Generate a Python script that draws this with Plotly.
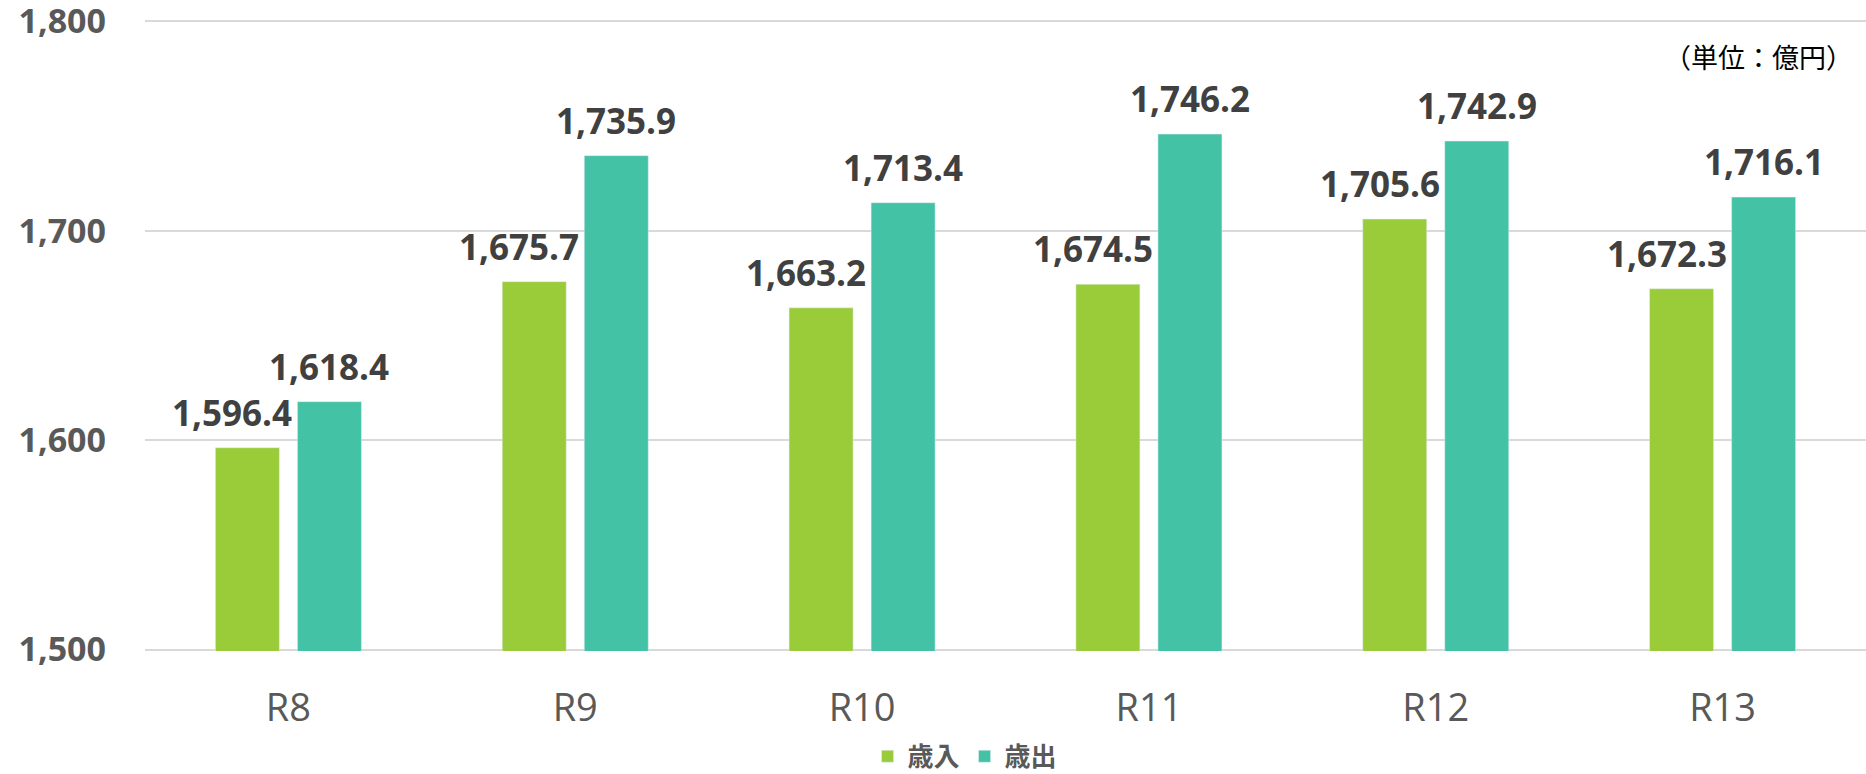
import plotly.graph_objects as go

categories = ["R8", "R9", "R10", "R11", "R12", "R13"]
revenue = [1596.4, 1675.7, 1663.2, 1674.5, 1705.6, 1672.3]      # 歳入
expenditure = [1618.4, 1735.9, 1713.4, 1746.2, 1742.9, 1716.1]  # 歳出
series_names = ["歳入", "歳出"]
y_ticks = [1500, 1600, 1700, 1800]
unit_label = "（単位：億円）"

GREEN = "#9ACB38"
TEAL = "#44C2A5"
FONT = "Open Sans, Noto Sans CJK JP, sans-serif"

fig = go.Figure()
fig.add_trace(go.Bar(x=categories, y=revenue, name=series_names[0], marker_color=GREEN))
fig.add_trace(go.Bar(x=categories, y=expenditure, name=series_names[1], marker_color=TEAL))

label_font = dict(family=FONT, size=35, color="#404040", weight="bold")
annotations = []
for cat, v in zip(categories, revenue):
    annotations.append(dict(x=cat, y=v, xref="x", yref="y", text=f"{v:,.1f}", showarrow=False,
                            yanchor="bottom", xanchor="center", xshift=-56, yshift=10,
                            font=label_font))
for cat, v in zip(categories, expenditure):
    annotations.append(dict(x=cat, y=v, xref="x", yref="y", text=f"{v:,.1f}", showarrow=False,
                            yanchor="bottom", xanchor="center", xshift=41, yshift=10,
                            font=label_font))
annotations.append(dict(x=0.9936, y=0.941, xref="paper", yref="paper", text=unit_label, showarrow=False,
                        xanchor="right", yanchor="middle",
                        font=dict(family=FONT, size=27, color="#000000")))

fig.update_layout(
    width=1866, height=774,
    margin=dict(l=145, r=0, t=20, b=123, autoexpand=False),
    paper_bgcolor="white", plot_bgcolor="white",
    barmode="group", bargap=0.428, bargroupgap=0.22,
    font=dict(family=FONT),
    showlegend=True,
    legend=dict(orientation="h", x=0.4765, xanchor="center", y=-0.167, yanchor="middle",
                font=dict(family=FONT, size=26, color="#595959", weight="bold"),
                itemwidth=30, traceorder="normal"),
    annotations=annotations,
)
fig.update_yaxes(range=[1499.3, 1800.7], tickvals=y_ticks, tickformat=",d",
                 showgrid=True, gridcolor="#d9d9d9", gridwidth=2,
                 zeroline=False, showline=False, ticks="", automargin=False,
                 ticklabelstandoff=38, ticklabeloverflow="allow",
                 tickfont=dict(family=FONT, size=34, color="#595959", weight="bold"))
fig.update_xaxes(showline=False, ticks="", showgrid=False, ticklabelstandoff=31, automargin=False,
                 tickfont=dict(family=FONT, size=38, color="#595959"))

fig.write_html("out.html", config={"displayModeBar": False},
               post_script="document.body.style.margin='0';")
